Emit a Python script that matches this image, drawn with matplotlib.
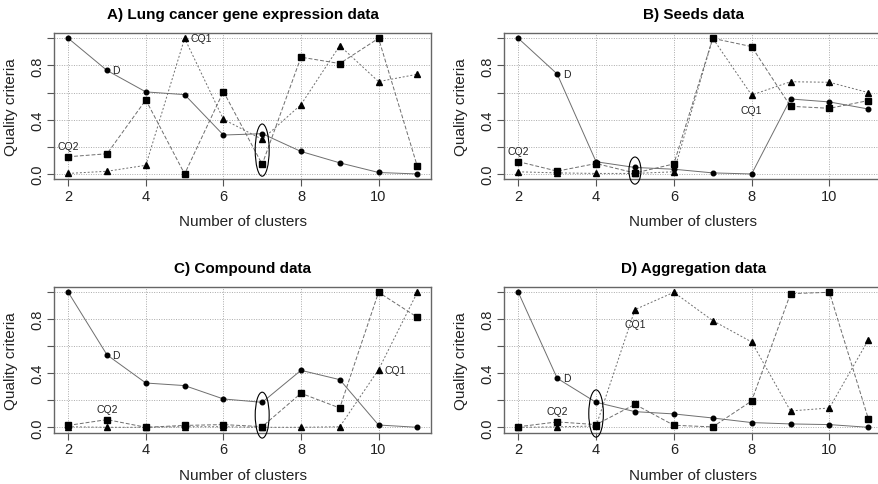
import matplotlib
matplotlib.use("Agg")
import matplotlib.pyplot as plt
from matplotlib.patches import Ellipse

plt.rcParams['font.family'] = ['Liberation Sans', 'DejaVu Sans']

clusters = [2, 3, 4, 5, 6, 7, 8, 9, 10, 11]

# A) Lung cancer gene expression data
lung_D = [1.0, 0.763, 0.605, 0.585, 0.287, 0.297, 0.166, 0.082, 0.011, 0.0]
lung_CQ1 = [0.004, 0.02, 0.064, 1.0, 0.403, 0.255, 0.511, 0.946, 0.681, 0.735]
lung_CQ2 = [0.127, 0.149, 0.546, 0.0, 0.608, 0.071, 0.861, 0.814, 1.0, 0.056]

# B) Seeds data
seeds_D = [1.0, 0.737, 0.09, 0.048, 0.035, 0.008, 0.0, 0.553, 0.531, 0.479]
seeds_CQ1 = [0.016, 0.008, 0.004, 0.004, 0.016, 1.0, 0.582, 0.68, 0.676, 0.6]
seeds_CQ2 = [0.091, 0.021, 0.077, 0.007, 0.074, 1.0, 0.939, 0.499, 0.484, 0.541]

# C) Compound data
comp_D = [1.0, 0.536, 0.328, 0.309, 0.21, 0.185, 0.422, 0.353, 0.017, 0.0]
comp_CQ1 = [0.004, 0.0, 0.0, 0.004, 0.004, 0.0, 0.0, 0.004, 0.427, 1.0]
comp_CQ2 = [0.014, 0.057, 0.0, 0.014, 0.02, 0.005, 0.252, 0.143, 1.0, 0.815]

# D) Aggregation data
aggr_D = [1.0, 0.363, 0.185, 0.116, 0.099, 0.069, 0.035, 0.025, 0.02, 0.0]
aggr_CQ1 = [0.0, 0.003, 0.01, 0.872, 1.0, 0.79, 0.632, 0.121, 0.143, 0.647]
aggr_CQ2 = [0.004, 0.04, 0.02, 0.17, 0.015, 0.003, 0.195, 0.99, 1.0, 0.064]

titles = ["A) Lung cancer gene expression data", "B) Seeds data",
          "C) Compound data", "D) Aggregation data"]
series = [(lung_D, lung_CQ1, lung_CQ2), (seeds_D, seeds_CQ1, seeds_CQ2),
          (comp_D, comp_CQ1, comp_CQ2), (aggr_D, aggr_CQ1, aggr_CQ2)]
# chosen number of clusters (circled) per panel
chosen_k = [7, 5, 7, 4]
ellipses = [(0.176, 0.36, 0.385), (0.025, 0.31, 0.2),
            (0.09, 0.36, 0.34), (0.102, 0.375, 0.35)]
# where the D / CQ1 / CQ2 labels sit: (k, side)
d_label = [(3, "right"), (3, "right"), (3, "right"), (3, "right")]
cq1_label = [(5, "right"), (8, "below"), (10, "right"), (5, "below")]
cq2_label = [(2, "above"), (2, "above"), (3, "above"), (3, "above")]

W, H = 879, 485
fig = plt.figure(figsize=(W / 100, H / 100), dpi=100)

# axes boxes in pixels: left, top, right, bottom
boxes = [(54.3, 33.9, 431.3, 180.4), (504.3, 33.9, 882.3, 180.4),
         (54.3, 287.9, 431.3, 433.7), (504.3, 287.9, 882.3, 433.7)]

line_col = "#6e6e6e"
offsets = {"right": ((4, 0), "left", "center"),
           "below": ((0, -7), "center", "top"),
           "above": ((0, 4), "center", "bottom")}


def put_label(ax, text, k, vals, side):
    i = clusters.index(k)
    off, ha, va = offsets[side]
    ax.annotate(text, (k, vals[i]), xytext=off, textcoords="offset points",
                ha=ha, va=va, fontsize=7.5, color="#222222")


for n in range(4):
    l, t, r, b = boxes[n]
    ax = fig.add_axes([l / W, (H - b) / H, (r - l) / W, (b - t) / H])
    D, CQ1, CQ2 = series[n]

    ax.grid(True, color="#aaaaaa", linestyle=(0, (1, 1.5)), linewidth=0.7)
    ax.set_axisbelow(True)

    ax.plot(clusters, D, color=line_col, lw=0.7, ls="-", zorder=2)
    ax.plot(clusters, CQ1, color=line_col, lw=0.7, ls=(0, (2, 2)), zorder=2)
    ax.plot(clusters, CQ2, color=line_col, lw=0.7, ls=(0, (4, 2)), zorder=2)
    ax.plot(clusters, D, "o", color="black", ms=3.3, zorder=3)
    ax.plot(clusters, CQ1, "^", color="black", ms=4, zorder=3)
    ax.plot(clusters, CQ2, "s", color="black", ms=3.8, zorder=3)

    cy, ew, eh = ellipses[n]
    ax.add_patch(Ellipse((chosen_k[n], cy), ew, eh, fill=False,
                         edgecolor="black", lw=0.8, clip_on=False, zorder=4))

    put_label(ax, "D", d_label[n][0], D, d_label[n][1])
    put_label(ax, "CQ1", cq1_label[n][0], CQ1, cq1_label[n][1])
    put_label(ax, "CQ2", cq2_label[n][0], CQ2, cq2_label[n][1])

    ax.set_xlim(1.64, 11.36)
    ax.set_ylim(-0.04, 1.04)
    ax.set_xticks([2, 4, 6, 8, 10])
    ax.set_yticks([0, 0.2, 0.4, 0.6, 0.8, 1.0])
    ax.set_yticklabels(["0.0", "", "0.4", "", "0.8", ""], rotation=90, va="center")
    ax.tick_params(length=5, width=0.8, color="#555555", labelsize=10.5,
                   labelcolor="#222222", pad=2)
    for s in ax.spines.values():
        s.set_color("#666666")
        s.set_linewidth(1.0)

    ax.set_title(titles[n], fontsize=11, fontweight="bold", pad=11)
    ax.set_xlabel("Number of clusters", fontsize=11, labelpad=8, color="#222222")
    ax.set_ylabel("Quality criteria", fontsize=11, labelpad=9, color="#222222")

fig.savefig("out.png", dpi=100)
